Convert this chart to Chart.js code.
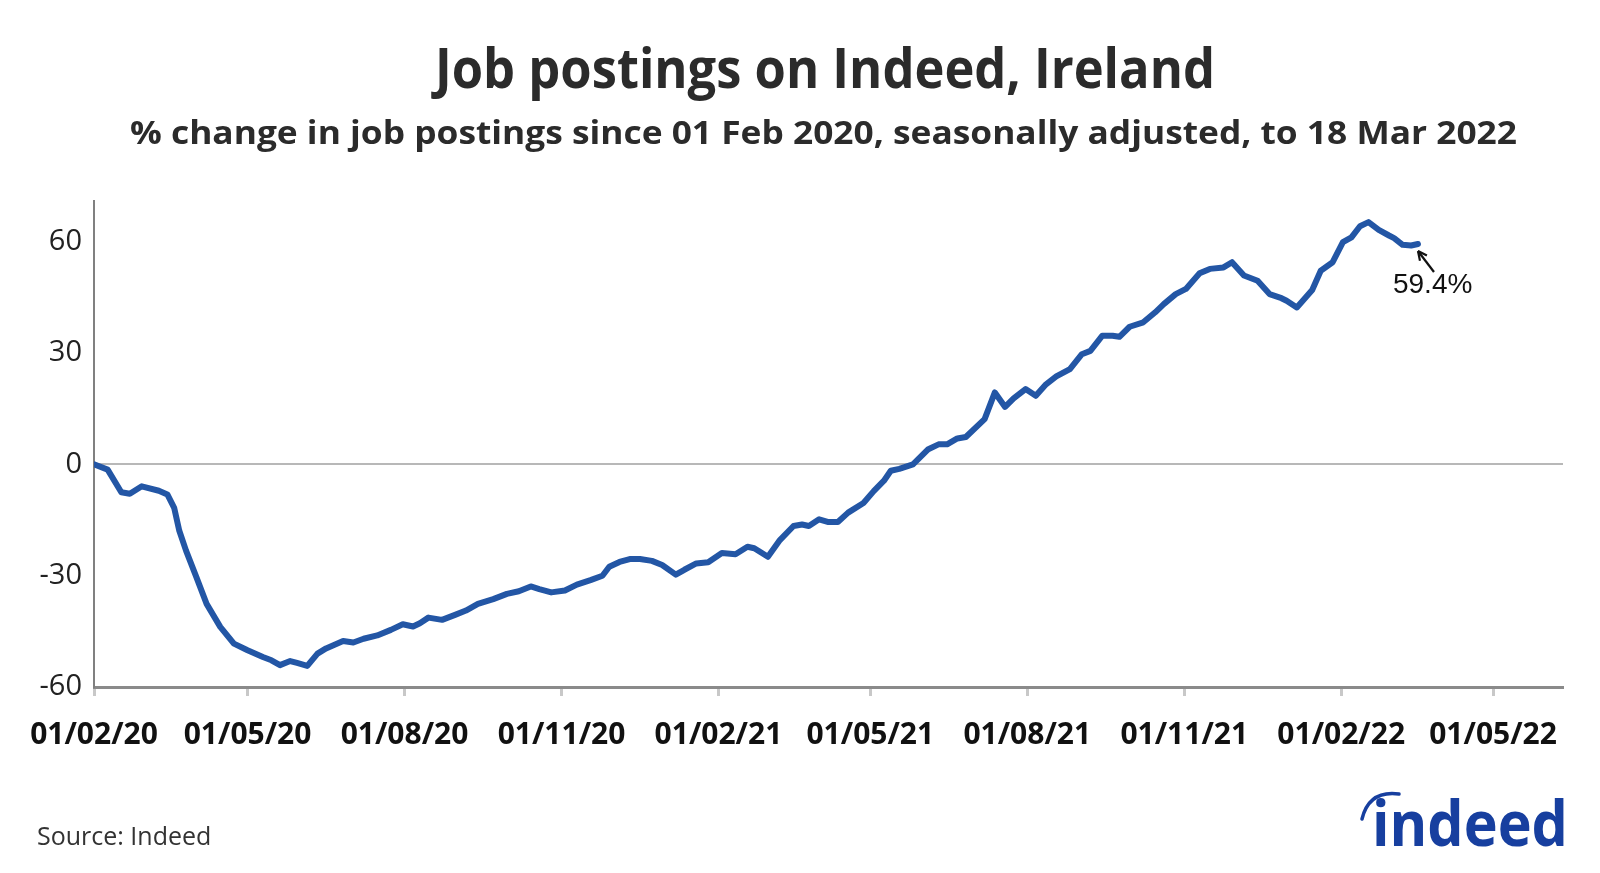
<!DOCTYPE html>
<html>
<head>
<meta charset="utf-8">
<script src="https://cdn.jsdelivr.net/npm/chart.js@4.4.1/dist/chart.umd.min.js"></script>
<style>
html,body{margin:0;padding:0;background:#fff;}
#wrap{width:1600px;height:873px;position:relative;}
</style>
</head>
<body>
<div id="wrap"><canvas id="c" width="1600" height="873"></canvas></div>
<script>
// ---------------- DATA ----------------
const titleText = 'Job postings on Indeed, Ireland';
const subtitleText = '% change in job postings since 01 Feb 2020, seasonally adjusted, to 18 Mar 2022';
const sourceText = 'Source: Indeed';
const logoText = 'indeed';
const endLabel = '59.4%';

const dates = [
 '2020-02-01','2020-02-09','2020-02-17','2020-02-22','2020-02-29','2020-03-10','2020-03-15','2020-03-19',
 '2020-03-22','2020-03-26','2020-04-01','2020-04-07','2020-04-15','2020-04-23','2020-05-01','2020-05-10',
 '2020-05-15','2020-05-20','2020-05-26','2020-05-30','2020-06-05','2020-06-11','2020-06-16','2020-06-26',
 '2020-07-02','2020-07-08','2020-07-16','2020-07-24','2020-07-31','2020-08-06','2020-08-10','2020-08-15',
 '2020-08-23','2020-08-31','2020-09-06','2020-09-13','2020-09-22','2020-09-30','2020-10-07','2020-10-14',
 '2020-10-19','2020-10-26','2020-11-03','2020-11-10','2020-11-18','2020-11-25','2020-11-29','2020-12-05',
 '2020-12-11','2020-12-17','2020-12-24','2020-12-30','2021-01-07','2021-01-12','2021-01-19','2021-01-26',
 '2021-02-03','2021-02-11','2021-02-18','2021-02-22','2021-03-02','2021-03-09','2021-03-17','2021-03-22',
 '2021-03-26','2021-04-01','2021-04-06','2021-04-12','2021-04-18','2021-04-27','2021-05-03','2021-05-09',
 '2021-05-13','2021-05-18','2021-05-26','2021-06-04','2021-06-10','2021-06-15','2021-06-21','2021-06-26',
 '2021-07-07','2021-07-13','2021-07-19','2021-07-24','2021-07-31','2021-08-06','2021-08-12','2021-08-18',
 '2021-08-26','2021-09-02','2021-09-07','2021-09-14','2021-09-20','2021-09-24','2021-09-30','2021-10-08',
 '2021-10-15','2021-10-20','2021-10-27','2021-11-02','2021-11-10','2021-11-16','2021-11-24','2021-11-29',
 '2021-12-06','2021-12-14','2021-12-21','2021-12-28','2021-12-31','2022-01-06','2022-01-15','2022-01-20',
 '2022-01-27','2022-02-02','2022-02-07','2022-02-12','2022-02-17','2022-02-23','2022-03-01','2022-03-04',
 '2022-03-09','2022-03-14','2022-03-18'
];
const values = [
 0.0,-1.4,-7.5,-7.9,-5.9,-7.1,-8.1,-11.7,
 -17.9,-23.3,-30.4,-37.6,-43.8,-48.3,-50.1,-51.9,
 -52.8,-54.1,-53.0,-53.5,-54.3,-51.0,-49.6,-47.6,
 -48.0,-47.0,-46.1,-44.6,-43.1,-43.7,-42.8,-41.3,
 -41.9,-40.5,-39.4,-37.6,-36.3,-34.9,-34.2,-32.9,
 -33.6,-34.5,-34.0,-32.4,-31.2,-30.0,-27.6,-26.3,
 -25.5,-25.5,-26.0,-27.1,-29.7,-28.4,-26.7,-26.4,
 -23.9,-24.2,-22.2,-22.6,-24.9,-20.4,-16.6,-16.2,
 -16.6,-14.8,-15.5,-15.5,-13.0,-10.4,-7.2,-4.4,
 -1.7,-1.2,0.0,4.1,5.4,5.4,7.0,7.4,
 12.2,19.4,15.5,17.8,20.3,18.5,21.6,23.7,
 25.7,29.7,30.6,34.7,34.7,34.4,37.1,38.3,
 41.0,43.2,45.9,47.3,51.5,52.7,53.1,54.5,
 50.9,49.5,45.9,44.8,44.1,42.3,47.0,52.2,
 54.5,59.9,61.2,64.2,65.3,63.2,61.7,61.0,
 59.2,59.0,59.4
];
const startDate = '2020-02-01';
const axisEndDate = '2022-06-11';
const xTickDates = ['2020-02-01','2020-05-01','2020-08-01','2020-11-01','2021-02-01',
                    '2021-05-01','2021-08-01','2021-11-01','2022-02-01','2022-05-01'];
const yTickValues = [-60,-30,0,30,60];
const yMin = -60, yMax = 71;

// ---------------- HELPERS ----------------
function toUTC(s){ const p = s.split('-').map(Number); return Date.UTC(p[0], p[1]-1, p[2]); }
function dayOffset(s){ return Math.round((toUTC(s) - toUTC(startDate)) / 86400000); }
function fmtDay(off){
  const d = new Date(toUTC(startDate) + off*86400000);
  const dd = String(d.getUTCDate()).padStart(2,'0');
  const mm = String(d.getUTCMonth()+1).padStart(2,'0');
  const yy = String(d.getUTCFullYear()%100).padStart(2,'0');
  return dd + '/' + mm + '/' + yy;
}
function drawFitted(ctx, text, left, baseline, width, font, color){
  ctx.save();
  ctx.font = font;
  ctx.fillStyle = color;
  ctx.textAlign = 'left';
  ctx.textBaseline = 'alphabetic';
  const w = ctx.measureText(text).width;
  ctx.translate(left, baseline);
  ctx.scale(width / w, 1);
  ctx.fillText(text, 0, 0);
  ctx.restore();
}

const points = dates.map((d,i) => ({x: dayOffset(d), y: values[i]}));

const decor = {
  id: 'decor',
  afterDraw(chart){
    const ctx = chart.ctx;
    // title & subtitle
    drawFitted(ctx, titleText, 435, 88, 780, 'bold 56px "Open Sans"', '#2b2b2b');
    drawFitted(ctx, subtitleText, 130, 144, 1387, 'bold 32px "Open Sans"', '#2b2b2b');
    // source
    ctx.save();
    ctx.font = '25px "Open Sans"';
    ctx.fillStyle = '#333';
    ctx.textBaseline = 'alphabetic';
    ctx.fillText(sourceText, 37, 845);
    ctx.restore();

    // end annotation
    const xs = chart.scales.x, ys = chart.scales.y;
    const last = points[points.length-1];
    const px = xs.getPixelForValue(last.x), py = ys.getPixelForValue(last.y);
    ctx.save();
    ctx.strokeStyle = '#111'; ctx.fillStyle = '#111'; ctx.lineWidth = 2.2;
    const hx = px + 0, hy = py + 7, tx = px + 16, ty = py + 28;
    ctx.beginPath(); ctx.moveTo(tx, ty); ctx.lineTo(hx, hy); ctx.stroke();
    const ang = Math.atan2(hy - ty, hx - tx);
    ctx.beginPath();
    ctx.moveTo(hx, hy);
    ctx.lineTo(hx - 10*Math.cos(ang - 0.45), hy - 10*Math.sin(ang - 0.45));
    ctx.moveTo(hx, hy);
    ctx.lineTo(hx - 10*Math.cos(ang + 0.45), hy - 10*Math.sin(ang + 0.45));
    ctx.stroke();
    ctx.font = '28px "Liberation Sans"';
    ctx.textBaseline = 'alphabetic';
    ctx.fillText(endLabel, px - 25, py + 49);
    ctx.restore();

    // logo
    const logoColor = '#173f9f';
    drawFitted(ctx, logoText, 1372, 846, 196, 'bold 62px "Open Sans"', logoColor);
    ctx.save();
    ctx.strokeStyle = logoColor; ctx.lineWidth = 3.5; ctx.lineCap = 'round';
    ctx.beginPath();
    ctx.moveTo(1362, 819);
    ctx.quadraticCurveTo(1369, 790, 1399, 794);
    ctx.stroke();
    ctx.restore();
  }
};

new Chart(document.getElementById('c'), {
  type: 'line',
  data: {
    datasets: [{
      data: points,
      borderColor: '#2356a5',
      borderWidth: 6,
      pointRadius: 0,
      tension: 0,
      borderJoinStyle: 'round',
      borderCapStyle: 'round',
      fill: false
    }]
  },
  options: {
    responsive: false,
    animation: false,
    devicePixelRatio: 1,
    layout: { padding: { top: 201, right: 37, left: 0, bottom: 0 } },
    plugins: { legend: { display: false }, tooltip: { enabled: false }, title: { display: false } },
    scales: {
      x: {
        type: 'linear',
        min: 0,
        max: dayOffset(axisEndDate),
        afterBuildTicks: s => { s.ticks = xTickDates.map(d => ({value: dayOffset(d)})); },
        afterFit: s => { s.height = 186; },
        ticks: {
          callback: v => fmtDay(v),
          font: { family: '"Open Sans"', size: 30, weight: 'bold' },
          color: '#111',
          maxRotation: 0, minRotation: 0, autoSkip: false, padding: 21
        },
        grid: { drawOnChartArea: false, drawTicks: true, tickLength: 9, tickColor: '#c8c8c8', tickWidth: 3 },
        border: { display: true, color: '#8a8a8a', width: 3 }
      },
      y: {
        min: yMin, max: yMax,
        afterBuildTicks: s => { s.ticks = yTickValues.map(v => ({value: v})); },
        afterFit: s => { s.width = 94; },
        ticks: {
          font: { family: '"Open Sans"', size: 29 },
          color: '#222',
          padding: 12
        },
        grid: {
          drawTicks: false,
          lineWidth: 2,
          color: c => (c.tick && c.tick.value === 0) ? '#b8b8b8' : 'rgba(0,0,0,0)'
        },
        border: { display: true, color: '#808080', width: 2 }
      }
    }
  },
  plugins: [decor]
});
</script>
</body>
</html>
